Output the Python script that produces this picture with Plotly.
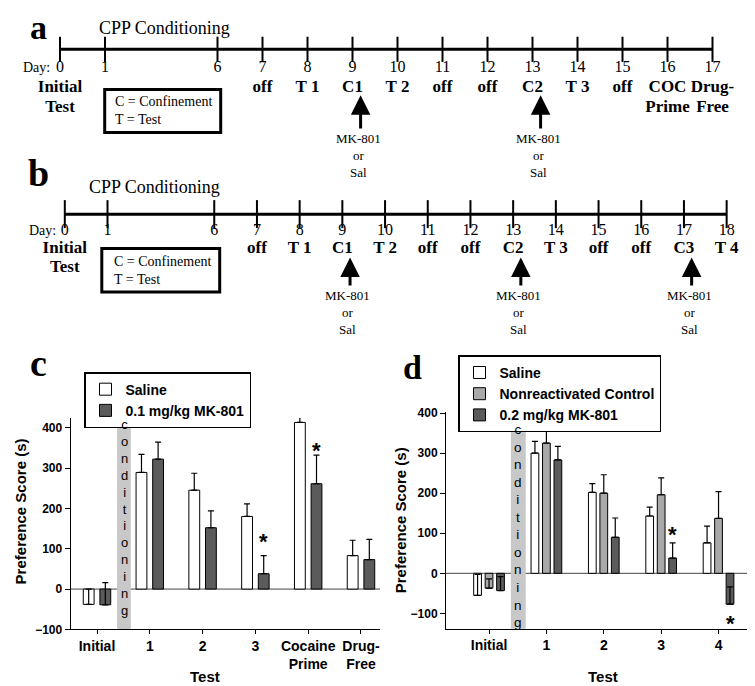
import plotly.graph_objects as go

W, H = 755, 686
SERIF = "Liberation Serif, Times New Roman, serif"
SANS = "Liberation Sans, Arial, sans-serif"

# ---------------- data ----------------
# timeline a
days_a = [0, 1, 6, 7, 8, 9, 10, 11, 12, 13, 14, 15, 16, 17]
labels_a_row1 = ["Initial", "", "", "off", "T 1", "C1", "T 2", "off", "off", "C2", "T 3", "off", "COC", "Drug-"]
labels_a_row2 = ["Test", "", "", "", "", "", "", "", "", "", "", "", "Prime", "Free"]
inject_days_a = [9, 13]

# timeline b
days_b = [0, 1, 6, 7, 8, 9, 10, 11, 12, 13, 14, 15, 16, 17, 18]
labels_b_row1 = ["Initial", "", "", "off", "T 1", "C1", "T 2", "off", "off", "C2", "T 3", "off", "off", "C3", "T 4"]
labels_b_row2 = ["Test", "", "", "", "", "", "", "", "", "", "", "", "", "", ""]
inject_days_b = [9, 13, 17]
inject_label = "MK-801<br>or<br>Sal"

# panel c
c_tests = ["Initial", "1", "2", "3", "Cocaine<br>Prime", "Drug-<br>Free"]
c_saline = [-38, 289, 245, 180, 413, 83]
c_saline_err = [38, 45, 42, 31, 26, 38]
c_mk = [-39, 322, 152, 38, 261, 73]
c_mk_err = [55, 42, 42, 45, 71, 50]
c_sig_tests = ["3", "Cocaine<br>Prime"]
c_sig_y = [118, 343]

# panel d
d_tests = ["Initial", "1", "2", "3", "4"]
d_saline = [-55, 300, 202, 143, 76]
d_saline_err = [52, 29, 22, 22, 42]
d_nonreact = [-37, 325, 200, 196, 137]
d_nonreact_err = [23, 38, 46, 42, 67]
d_mk = [-43, 283, 90, 38, -77]
d_mk_err = [35, 34, 48, 38, 43]
d_sig_tests = ["3", "4"]
d_sig_y = [98, -126]

y_ticks = [-100, 0, 100, 200, 300, 400]

# ---------------- helpers ----------------
def px(x):
    return x / W

def py(y):
    return 1 - y / H

def tl(d):
    # days 2-5 are compressed on the timeline
    return d if d <= 1 else d - 2.5

WHITE, GRAY, DARK, BAND = "white", "#a9a9a9", "#5b5b5b", "#c8c8c8"

fig = go.Figure()

# ---------------- timelines ----------------
def timeline(days, row1, row2, xa, y_line, y_num, y_r1, y_r2, tick_size):
    xs = [tl(d) for d in days]
    n = len(days)
    fig.add_trace(go.Scatter(x=[xs[0], xs[-1]], y=[y_line, y_line], mode="lines",
                             line=dict(color="black", width=3), xaxis=xa, yaxis="y3",
                             showlegend=False, hoverinfo="skip"))
    fig.add_trace(go.Scatter(x=xs, y=[y_line] * n, mode="markers",
                             marker=dict(symbol="line-ns", size=tick_size, line=dict(width=2, color="black")),
                             xaxis=xa, yaxis="y3", showlegend=False, hoverinfo="skip"))
    fig.add_trace(go.Scatter(x=xs, y=[y_num] * n, mode="text", text=[str(d) for d in days],
                             textfont=dict(family=SERIF, size=16, color="black"),
                             xaxis=xa, yaxis="y3", showlegend=False, hoverinfo="skip"))
    fig.add_trace(go.Scatter(x=xs, y=[y_r1] * n, mode="text", text=row1,
                             textfont=dict(family=SERIF, size=17, color="black", weight="bold"),
                             xaxis=xa, yaxis="y3", showlegend=False, hoverinfo="skip"))
    fig.add_trace(go.Scatter(x=xs, y=[y_r2] * n, mode="text", text=row2,
                             textfont=dict(family=SERIF, size=17, color="black", weight="bold"),
                             xaxis=xa, yaxis="y3", showlegend=False, hoverinfo="skip"))

timeline(days_a, labels_a_row1, labels_a_row2, "x3", 36, 55, 75, 96, 18)
timeline(days_b, labels_b_row1, labels_b_row2, "x4", 204, 221, 239, 259, 20)

# ---------------- bars ----------------
def bar(x, y, err, name, color, offset, width, xa, ya, legend):
    return go.Bar(x=x, y=y, name=name, offset=offset, width=width,
                  marker=dict(color=color, line=dict(color="black", width=1)),
                  error_y=dict(type="data", array=err, arrayminus=[0] * len(err), symmetric=False,
                               color="black", thickness=1.2, width=3),
                  xaxis=xa, yaxis=ya, legend=legend, hoverinfo="skip")

fig.add_trace(bar(c_tests, c_saline, c_saline_err, "Saline", WHITE, -0.26, 0.205, "x", "y", "legend"))
fig.add_trace(bar(c_tests, c_mk, c_mk_err, "0.1 mg/kg MK-801", DARK, 0.055, 0.205, "x", "y", "legend"))

fig.add_trace(bar(d_tests, d_saline, d_saline_err, "Saline", WHITE, -0.2675, 0.135, "x2", "y2", "legend2"))
fig.add_trace(bar(d_tests, d_nonreact, d_nonreact_err, "Nonreactivated Control", GRAY, -0.0675, 0.135, "x2", "y2", "legend2"))
fig.add_trace(bar(d_tests, d_mk, d_mk_err, "0.2 mg/kg MK-801", DARK, 0.1325, 0.135, "x2", "y2", "legend2"))

# ---------------- annotations ----------------
ann = []

def text(x, y, t, size, family=SANS, bold=False, xanchor="center", yanchor="middle", **kw):
    d = dict(x=x, y=y, text=t, showarrow=False, xref="paper", yref="paper",
             xanchor=xanchor, yanchor=yanchor,
             font=dict(family=family, size=size, color="black", weight="bold" if bold else "normal"))
    d.update(kw)
    ann.append(d)

# panel letters
text(px(30), py(14), "a", 34, SERIF, True)
text(px(30), py(162), "b", 38, SERIF, True)
text(px(31), py(356), "c", 38, SERIF, True)
text(px(404), py(360), "d", 34, SERIF, True)

# timeline headings
text(px(89), py(14), "CPP Conditioning", 18, SERIF, xanchor="left")
text(px(79), py(176), "CPP Conditioning", 18, SERIF, xanchor="left")
text(px(28), py(55), "Day:", 14, SERIF)
text(px(34), py(221), "Day:", 14, SERIF)

# C / T key boxes
text(px(105), py(98), "C = Confinement<br>T = Test", 14, SERIF, xanchor="left", align="left")
text(px(104), py(261.5), "C = Confinement<br>T = Test", 14, SERIF, xanchor="left", align="left")

# arrows + labels
ARROW_OFF = 0.18
for xa, dlist, tip, tail, lab in [("x3", inject_days_a, 82.7, 118.3, 144),
                                  ("x4", inject_days_b, 248.3, 278.3, 304)]:
    for d in dlist:
        xx = tl(d) + ARROW_OFF
        ann.append(dict(x=xx, y=tip, ax=xx, ay=tail, xref=xa, yref="y3", axref=xa, ayref="y3",
                        showarrow=True, arrowhead=2, arrowsize=1.3, arrowwidth=3,
                        arrowcolor="black", text=""))
        ann.append(dict(x=xx - 0.05, y=lab, xref=xa, yref="y3", text=inject_label, showarrow=False,
                        xanchor="center", yanchor="middle",
                        font=dict(family=SERIF, size=13, color="black")))

# vertical "conditioning" labels inside the grey bands
word = "conditioning"
stacked = "<br>".join(word)
text(px(116), py(513.5), stacked, 13, SANS)
text(px(510), py(522), stacked, 13.5, SANS)

# axis titles
text(px(12), py(507), "Preference Score (s)", 15, SANS, True, textangle=-90)
text(px(392), py(516), "Preference Score (s)", 15, SANS, True, textangle=-90)
text(px(197), py(675), "Test", 15, SANS, True)
text(px(595), py(675), "Test", 15, SANS, True)

# significance stars
for t, yv in zip(c_sig_tests, c_sig_y):
    ann.append(dict(x=c_tests.index(t) + 0.15, y=yv, xref="x", yref="y", text="*", showarrow=False,
                    xanchor="center", yanchor="middle",
                    font=dict(family=SANS, size=22, color="black", weight="bold")))
for t, yv in zip(d_sig_tests, d_sig_y):
    ann.append(dict(x=d_tests.index(t) + 0.2, y=yv, xref="x2", yref="y2", text="*", showarrow=False,
                    xanchor="center", yanchor="middle",
                    font=dict(family=SANS, size=22, color="black", weight="bold")))

# ---------------- shapes ----------------
shapes = [
    dict(type="rect", xref="paper", yref="paper", x0=px(96.7), x1=px(212.7), y0=py(77), y1=py(120.7),
         line=dict(color="black", width=3)),
    dict(type="rect", xref="paper", yref="paper", x0=px(93.8), x1=px(211.7), y0=py(239), y1=py(283.3),
         line=dict(color="black", width=3)),
    # zero reference lines (drawn first so the conditioning band covers them)
    dict(type="line", xref="x domain", yref="y", x0=0, x1=1, y0=0, y1=0,
         line=dict(color="#444444", width=1), layer="below"),
    dict(type="line", xref="x2 domain", yref="y2", x0=0, x1=1, y0=0, y1=0,
         line=dict(color="#444444", width=1), layer="below"),
    dict(type="rect", xref="x", yref="y domain", x0=0.38, x1=0.64, y0=0, y1=1,
         fillcolor=BAND, line=dict(width=0), layer="below"),
    dict(type="rect", xref="x2", yref="y2 domain", x0=0.38, x1=0.64, y0=0, y1=1,
         fillcolor=BAND, line=dict(width=0), layer="below"),
]

# ---------------- axes ----------------
tickfont_x = dict(family=SANS, size=14, color="black", weight="bold")
tickfont_y = dict(family=SANS, size=12, color="black", weight="bold")
common_x = dict(type="category", showline=True, linecolor="black", linewidth=1, ticks="outside",
                ticklen=4, tickcolor="black", tickfont=tickfont_x, showgrid=False, zeroline=False,
                fixedrange=True)
common_y = dict(showline=True, linecolor="black", linewidth=1, ticks="outside", ticklen=5,
                tickcolor="black", tickfont=tickfont_y, showgrid=False, zeroline=False,
                tickvals=y_ticks, fixedrange=True)

ua = 45.0   # px per timeline unit (a)
ub = 42.7   # px per timeline unit (b)

legend_common = dict(xanchor="left", yanchor="top", bgcolor="white", bordercolor="black",
                     borderwidth=1.5, font=dict(family=SANS, size=14, color="black", weight="bold"),
                     tracegroupgap=0, itemwidth=30, traceorder="normal")

fig.update_layout(
    width=W, height=H, margin=dict(l=0, r=0, t=0, b=0),
    paper_bgcolor="white", plot_bgcolor="rgba(0,0,0,0)",
    barmode="overlay", showlegend=True,
    xaxis=dict(domain=[px(62.6), px(372)], range=[-0.5, 5.36], categoryorder="array",
               categoryarray=c_tests, anchor="y", **common_x),
    yaxis=dict(domain=[py(627.3), py(411.8)], range=[-100, 424], anchor="x", **common_y),
    xaxis2=dict(domain=[px(438), px(753)], range=[-0.75, 4.74], categoryorder="array",
                categoryarray=d_tests, anchor="y2", **common_x),
    yaxis2=dict(domain=[py(626.5), py(405.9)], range=[-138, 402], anchor="x2", **common_y),
    xaxis3=dict(domain=[0, 1], range=[-52 / ua, (W - 52) / ua], visible=False, anchor="y3",
                fixedrange=True),
    xaxis4=dict(domain=[0, 1], range=[-56.8 / ub, (W - 56.8) / ub], visible=False, anchor="y3",
                fixedrange=True),
    yaxis3=dict(domain=[0, 1], range=[H, 0], visible=False, anchor="x3", fixedrange=True),
    legend=dict(x=px(76), y=py(365), **legend_common),
    legend2=dict(x=px(450), y=py(348), **legend_common),
    annotations=ann,
    shapes=shapes,
)

fig.write_html("out.html")
